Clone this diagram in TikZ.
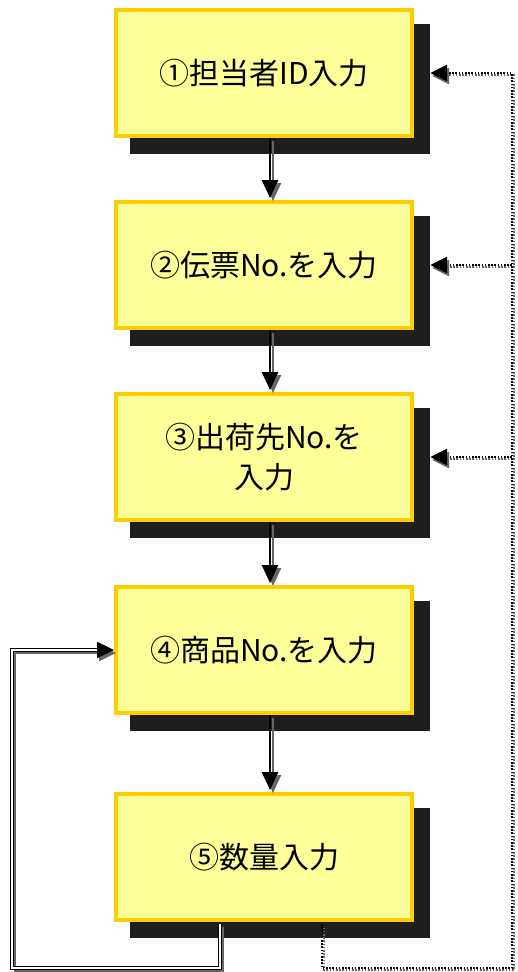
\documentclass[tikz,border=0pt]{standalone}
\usepackage{fontspec}
\newfontfamily\jp{Noto Sans CJK JP}
\usetikzlibrary{arrows.meta,calc}
\definecolor{boxfill}{HTML}{FFFF99}
\definecolor{boxline}{HTML}{FFCC00}
\definecolor{shadowc}{HTML}{1E1E1E}
\definecolor{lineshadow}{HTML}{666666}
\begin{document}
\begin{tikzpicture}[x=1pt,y=-1pt,
  stepbox/.style={draw=boxline, fill=boxfill, line width=4pt, minimum width=296pt, minimum height=126pt, inner sep=0pt, font=\jp\fontsize{30}{38}\selectfont, align=center, text=black},
  shadowbox/.style={fill=shadowc, minimum width=300pt, minimum height=130pt, inner sep=0pt},
  tipstyle/.style={-{Triangle[length=18pt,width=16pt]}},
  varr/.style={line width=2.5pt, black, tipstyle},
  varrsh/.style={line width=2.5pt, lineshadow, tipstyle, transform canvas={xshift=3pt,yshift=-3pt}},
  dotl/.style={line width=2.6pt, black, dash pattern=on 1.6pt off 1.6pt},
  dotsh/.style={line width=2.6pt, lineshadow, dash pattern=on 1.6pt off 1.6pt, dash phase=1.6pt, transform canvas={xshift=2pt,yshift=-2pt}},
  dblline/.style={draw=black, double=white, line width=1.3pt, double distance=1.5pt},
  dblsh/.style={line width=2pt, lineshadow, transform canvas={xshift=3pt,yshift=-3pt}},
  hdtip/.style={line width=2.5pt, black, -{Triangle[length=17pt,width=16pt]}},
  hdtipsh/.style={line width=2.5pt, lineshadow, -{Triangle[length=17pt,width=16pt]}, transform canvas={xshift=2pt,yshift=-3pt}}
]
\fill[white] (0,0) rectangle (517,972);
\path[use as bounding box] (0,0) rectangle (517,972);

% shadows
\node[shadowbox] (s1) at (280,89) {};
\node[shadowbox] (s2) at (280,281) {};
\node[shadowbox] (s3) at (280,473) {};
\node[shadowbox] (s4) at (280,666) {};
\node[shadowbox] (s5) at (280,873) {};

% boxes
\node[stepbox] (b1) at (264,73) {①担当者ID入力};
\node[stepbox] (b2) at (264,265) {②伝票No.を入力};
\node[stepbox] (b3) at (264,457) {\raisebox{2pt}{③出荷先No.を}\\入力};
\node[stepbox] (b4) at (264,650) {④商品No.を入力};
\node[stepbox] (b5) at (264,857) {⑤数量入力};

% vertical arrows
\foreach \a/\b in {b1/b2,b2/b3,b3/b4,b4/b5}{
  \draw[varrsh] ([xshift=6pt]\a.south) -- ([xshift=6pt,yshift=2pt]\b.north);
  \draw[varr] ([xshift=6pt]\a.south) -- ([xshift=6pt,yshift=2pt]\b.north);
}

\coordinate (rb) at (512,968);
\coordinate (lb) at (12,968);

% right dotted feedback
\draw[dotsh] ([xshift=58pt,yshift=-2pt]b5.south) |- (rb) -- (rb |- b1.east) -- ([xshift=14pt]s1.east |- b1.east);
\draw[dotsh] (rb |- b2.east) -- ([xshift=14pt]s2.east |- b2.east);
\draw[dotsh] (rb |- b3.east) -- ([xshift=14pt]s3.east |- b3.east);
\draw[dotl] ([xshift=58pt,yshift=-2pt]b5.south) |- (rb) -- (rb |- b1.east) -- ([xshift=14pt]s1.east |- b1.east);
\draw[dotl] (rb |- b2.east) -- ([xshift=14pt]s2.east |- b2.east);
\draw[dotl] (rb |- b3.east) -- ([xshift=14pt]s3.east |- b3.east);
\foreach \s/\b in {s1/b1,s2/b2,s3/b3}{
  \draw[hdtipsh] ([xshift=16pt]\s.east |- \b.east) -- (\s.east |- \b.east);
  \draw[hdtip] ([xshift=16pt]\s.east |- \b.east) -- (\s.east |- \b.east);
}

% left double feedback
\draw[dblsh] ([xshift=-44pt,yshift=-2pt]b5.south) |- (lb) |- ([xshift=-16pt]b4.west);
\draw[dblline] ([xshift=-44pt,yshift=-2pt]b5.south) |- (lb) |- ([xshift=-16pt]b4.west);
\draw[hdtipsh] ([xshift=-17pt]b4.west) -- (b4.west);
\draw[hdtip] ([xshift=-17pt]b4.west) -- (b4.west);
\end{tikzpicture}
\end{document}
